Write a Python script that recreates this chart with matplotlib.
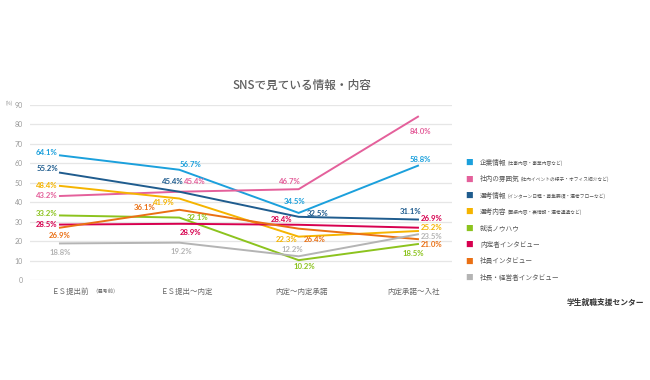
import matplotlib
matplotlib.use('Agg')
import matplotlib.pyplot as plt

plt.rcParams['font.family'] = ['Noto Sans CJK JP', 'DejaVu Sans']

#categories along the x axis
stages = ['ＥＳ提出前', 'ＥＳ提出〜内定', '内定〜内定承諾', '内定承諾〜入社']
stage_note = '（選考前）'

#legend names and their small notes
names = ['企業情報', '社内の雰囲気', '選考情報', '選考内容', '就活ノウハウ',
         '内定者インタビュー', '社員インタビュー', '社長・経営者インタビュー']
notes = ['(仕事内容・事業内容など)', '(社内イベントの様子・オフィス紹介など)',
         '(インターン日程・募集要項・選考フローなど)', '(面接内容・裏情報・選考通過など)',
         '', '', '', '']

#values in percent, one list per series
kigyo = [64.1, 56.7, 34.5, 58.8]
fun_iki = [43.2, 45.4, 46.7, 84.0]
senko_joho = [55.2, 45.4, 32.5, 31.1]
senko_naiyo = [48.4, 41.9, 22.3, 25.2]
knowhow = [33.2, 32.1, 10.2, 18.5]
naiteisha = [28.5, 28.9, 28.4, 26.9]
shain = [26.9, 36.1, 26.4, 21.0]
shacho = [18.8, 19.2, 12.2, 23.5]
series = [kigyo, fun_iki, senko_joho, senko_naiyo, knowhow, naiteisha, shain, shacho]

colors = ['#1ba0dc', '#e4609b', '#1f5c8e', '#f5b400', '#8cc31e', '#d7004f', '#ea7014', '#b4b4b4']

#label offsets in pixels (dx, dy) for every point
offsets = [
    [(-13, 3), (11, 5), (-4, 11), (2, 6)],
    [(-13, 0), (15, 10), (-9, 8), (3, -15)],
    [(-13, 4), (-7, 10), (19, 3), (-7, 8)],
    [(-13, 0), (-16, -4), (-12, -3), (14, 4)],
    [(-13, 2), (18, 0), (6, -6), (-5, -9)],
    [(-13, 0), (11, -9), (-17, 5), (14, 9)],
    [(0, -8), (-35, 2), (16, -11), (14, -5)],
    [(0, -9), (2, -9), (-6, 7), (14, -2)],
]

fig = plt.figure(figsize=(6.5, 3.8), dpi=100)
ax = fig.add_axes([30/650, 1-280/380, 422/650, 175/380])

x = list(range(len(stages)))
for vals, col in zip(series, colors):
    ax.plot(x, vals, color=col, lw=1.4, solid_joinstyle='miter')

for vals, col, offs in zip(series, colors, offsets):
    for xi, v, (dx, dy) in zip(x, vals, offs):
        ax.annotate(f'{v:.1f}%', (xi, v), xytext=(dx, dy), textcoords='offset pixels',
                    ha='center', va='center', color=col, fontsize=5.6,
                    fontweight='bold', family=['Lato', 'DejaVu Sans'])

ax.set_xlim(-0.251, 3.285)
ax.set_ylim(0, 90)
ax.set_yticks(range(0, 91, 10))
ax.set_yticklabels([str(t) for t in range(0, 91, 10)], fontsize=5, color='#9a9a9a',
                   family=['Lato', 'DejaVu Sans'])
ax.yaxis.grid(True, color='#e6e6e6', lw=0.9)
ax.set_axisbelow(True)
ax.tick_params(axis='y', length=0, pad=5)
ax.set_xticks([])
for s in ax.spines.values():
    s.set_visible(False)

#category labels under the axis
tr = ax.get_xaxis_transform()
label_dx = [0.13, 0.07, 0.02, -0.04]
for xi, name, d in zip(x, stages, label_dx):
    if xi == 0:
        ax.text(xi + d + 0.12, -0.07, name, transform=tr, ha='right', va='center',
                fontsize=5.4, color='#666666')
        ax.text(xi + d + 0.14, -0.07, stage_note, transform=tr, ha='left', va='center',
                fontsize=3.8, color='#666666')
    else:
        ax.text(xi + d, -0.07, name, transform=tr, ha='center', va='center',
                fontsize=5.4, color='#666666')

fig.text(6/650, 1-103/380, '(%)', fontsize=3.3, color='#888888', va='center')
fig.text(302/650, 1-85/380, 'SNSで見ている情報・内容', fontsize=8.4, color='#5f5f5f',
         ha='center', va='center', fontweight='medium')

#legend drawn by hand so the notes can be smaller
fig.canvas.draw()
r = fig.canvas.get_renderer()
for i, (name, note, col) in enumerate(zip(names, notes, colors)):
    y = 1 - (163 + i*16.4)/380
    fig.text(465/650, y, '■', color=col, fontsize=5.5, va='center')
    t = fig.text(480/650, y, name, color='#555555', fontsize=4.8, va='center')
    if note:
        bb = t.get_window_extent(r)
        fig.text((bb.x1 + 1)/650, y, note, color='#555555', fontsize=3.4, va='center')

fig.text(644/650, 1-302/380, '学生就職支援センター', fontsize=5.6, color='#333333',
         ha='right', va='center', fontweight='bold')

fig.savefig('out.png', dpi=100)
